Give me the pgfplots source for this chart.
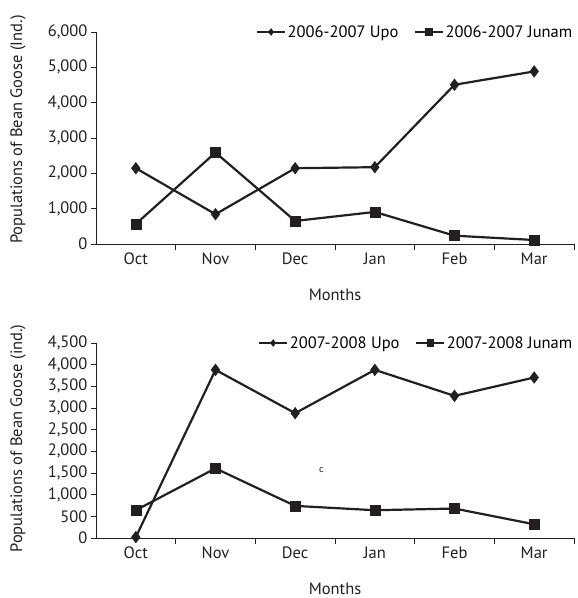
\documentclass[border=0pt]{standalone}
\usepackage{pgfplots}
\pgfplotsset{compat=1.18}
\usepackage{fontspec}
\setmainfont{PT Sans}
\definecolor{ink}{RGB}{35,31,32}
\newcommand{\chartfont}{\fontsize{16.5}{18}\selectfont}
\pgfplotsset{
  goose/.style={
    scale only axis, width=478pt,
    xmin=-0.5, xmax=5.5,
    ymin=0,
    axis lines=left, axis line style={-, ink, line width=0.9pt},
    xtick={0,...,5},
    xticklabels={Oct,Nov,Dec,Jan,Feb,Mar},
    minor xtick={0.5,1.5,...,5.5},
    major x tick style={draw=none},
    minor x tick style={ink, line width=0.9pt},
    minor tick length=6pt,
    major tick length=5pt,
    tick align=outside,
    y tick style={ink, line width=0.9pt},
    tick label style={font=\chartfont, text=ink},
    label style={font=\chartfont, text=ink},
    /pgf/number format/assume math mode=true,
    yticklabel style={/pgf/number format/1000 sep={,}},
    xlabel={Months},
    xlabel style={yshift=-18pt},
    legend style={draw=none, fill=none, at={(1,1)}, anchor=east,
      legend columns=2, font=\chartfont,
      /tikz/every even column/.append style={column sep=14pt},
      inner sep=0pt, nodes={inner sep=1.5pt}},
    legend image code/.code={%
      \draw[mark repeat=2,mark phase=2,#1, mark size=3.4pt] plot coordinates {(0pt,0pt) (14pt,0pt) (28pt,0pt)};},
    clip=false,
  },
  upo/.style={ink, line width=2.2pt, mark=diamond*, mark size=5.8pt, mark options={solid, line width=0.5pt}},
  jun/.style={ink, line width=2.2pt, mark=square*, mark size=5pt, mark options={solid, line width=0.5pt}},
}
\begin{document}
\begin{tikzpicture}[x=1pt,y=1pt]
\useasboundingbox (0,0) rectangle (578,598);
\begin{axis}[goose, at={(96pt,354pt)}, anchor=south west, height=212pt,
  ymax=6000, ytick={0,1000,...,6000},
  ylabel={Populations of Bean Goose (Ind.)},
  ylabel style={at={(axis description cs:-0.163,0.54)}, anchor=center}]
\addplot[upo] coordinates {(0,2145) (1,842) (2,2145) (3,2174) (4,4507) (5,4884)};
\addlegendentry{2006-2007 Upo}
\addplot[jun] coordinates {(0,567) (1,2588) (2,652) (3,907) (4,235) (5,113)};
\addlegendentry{2006-2007 Junam}
\end{axis}
\begin{axis}[goose, at={(96pt,60pt)}, anchor=south west, height=195pt,
  ymax=4500, ytick={0,500,...,4500},
  ylabel={Populations of Bean Goose (ind.)},
  ylabel style={at={(axis description cs:-0.163,0.51)}, anchor=center}]
\addplot[upo] coordinates {(0,20) (1,3880) (2,2880) (3,3880) (4,3280) (5,3704)};
\addlegendentry{2007-2008 Upo}
\addplot[jun] coordinates {(0,641) (1,1607) (2,741) (3,641) (4,680) (5,317)};
\addlegendentry{2007-2008 Junam}
\node[font=\fontsize{10}{11}\selectfont, text=ink] at (axis cs:2.33,1567) {c};
\end{axis}
\end{tikzpicture}
\end{document}
